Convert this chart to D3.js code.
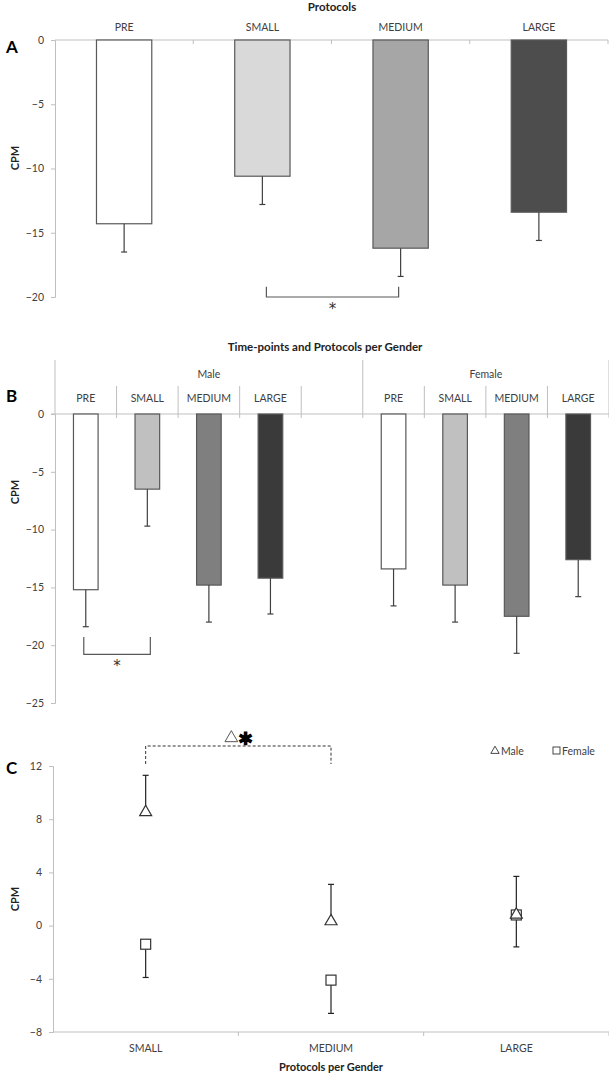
<!DOCTYPE html>
<html><head><meta charset="utf-8">
<script src="https://cdn.jsdelivr.net/npm/d3@7"></script>
<style>
body{margin:0;background:#fff;}
svg{display:block;font-family:Lato,"Liberation Sans",sans-serif;}
.axis path,.axis line{stroke:#bfbfbf;}
.axis text{fill:#404040;font-size:10.5px;font-family:Lato,"Liberation Sans",sans-serif;}
</style></head>
<body>
<svg id="chart" width="609" height="1077"></svg>
<script>
// ---- Panel A data ----
const catsA = ["PRE", "SMALL", "MEDIUM", "LARGE"];
const valuesA = [-14.3, -10.6, -16.2, -13.4];
const errA = [2.2, 2.2, 2.2, 2.2];
const colorsA = ["#ffffff", "#d9d9d9", "#a6a6a6", "#4d4d4d"];
const ticksA = [0, -5, -10, -15, -20];

// ---- Panel B data ----
const gendersB = ["Male", "Female"];
const catsB = ["PRE", "SMALL", "MEDIUM", "LARGE"];
const maleB = [-15.2, -6.5, -14.8, -14.2];
const maleErrB = [3.2, 3.2, 3.2, 3.1];
const femaleB = [-13.4, -14.8, -17.5, -12.6];
const femaleErrB = [3.2, 3.2, 3.2, 3.2];
const colorsB = ["#ffffff", "#c0c0c0", "#7f7f7f", "#3a3a3a"];
const ticksB = [0, -5, -10, -15, -20, -25];

// ---- Panel C data ----
const catsC = ["SMALL", "MEDIUM", "LARGE"];
const maleC = [8.6, 0.4, 0.9];
const maleErrC = [2.7, 2.7, 2.8];
const femaleC = [-1.4, -4.1, 0.8];
const femaleErrC = [2.5, 2.5, 2.4];
const ticksC = [-8, -4, 0, 4, 8, 12];

const svg = d3.select("#chart");
const axisCol = "#bfbfbf";
const labCol = "#404040";
const barStroke = "#595959";
const errCol = "#404040";
const FS = 10.5;

function panelLabel(t, x, y) {
  svg.append("text").attr("x", x).attr("y", y).attr("font-size", 17)
    .attr("font-weight", "bold").attr("fill", "#000").text(t);
}
function title(t, x, y) {
  svg.append("text").attr("x", x).attr("y", y).attr("text-anchor", "middle")
    .attr("font-size", 11.5).attr("font-weight", "bold").attr("fill", "#222").text(t);
}
function yLabel(x, y) {
  svg.append("text").attr("transform", `translate(${x},${y}) rotate(-90)`)
    .attr("text-anchor", "middle").attr("font-size", 11).attr("font-weight", "bold")
    .attr("fill", "#222").text("CPM");
}
function errBar(g, x, y1, y2, col) {
  g.append("line").attr("x1", x).attr("x2", x).attr("y1", y1).attr("y2", y2)
    .attr("stroke", col).attr("stroke-width", 1.2);
  g.append("line").attr("x1", x - 3).attr("x2", x + 3).attr("y1", y2).attr("y2", y2)
    .attr("stroke", col).attr("stroke-width", 1.2);
}
function star(g, x, y) {
  g.append("text").attr("x", x).attr("y", y).attr("text-anchor", "middle")
    .attr("font-family", "DejaVu Sans").attr("font-size", 15).attr("fill", "#333").text("*");
}

// ================= PANEL A =================
{
  const x = d3.scaleBand().domain(catsA).range([55, 608]).paddingInner(0.6).paddingOuter(0.3);
  const y = d3.scaleLinear().domain([-20, 0]).range([297, 40]);
  const g = svg.append("g");
  title("Protocols", 332, 11);
  panelLabel("A", 6, 53);
  yLabel(19, 158);

  const ya = g.append("g").attr("class", "axis").attr("transform", "translate(55,0)")
    .call(d3.axisLeft(y).tickValues(ticksA).tickSize(4).tickPadding(7).tickFormat(d3.format("d")));
  ya.select(".domain").attr("stroke", axisCol);

  g.append("line").attr("x1", 55).attr("x2", 608).attr("y1", y(0)).attr("y2", y(0)).attr("stroke", axisCol);
  const step = x.step();
  catsA.forEach((c, i) => {
    const bx = x(c) - x.step() * x.paddingInner() / 2 + step;
    g.append("line").attr("x1", bx).attr("x2", bx).attr("y1", y(0)).attr("y2", y(0) + 4).attr("stroke", axisCol);
    g.append("text").attr("x", x(c) + x.bandwidth() / 2).attr("y", 31).attr("text-anchor", "middle")
      .attr("font-size", FS).attr("fill", labCol).text(c);
  });

  g.selectAll("rect.barA").data(catsA).join("rect").attr("class", "barA")
    .attr("x", c => x(c)).attr("width", x.bandwidth())
    .attr("y", y(0)).attr("height", (c, i) => y(valuesA[i]) - y(0))
    .attr("fill", (c, i) => colorsA[i]).attr("stroke", barStroke).attr("stroke-width", 1.2);
  catsA.forEach((c, i) => {
    const cx = x(c) + x.bandwidth() / 2;
    errBar(g, cx, y(valuesA[i]), y(valuesA[i] - errA[i]), errCol);
  });

  const x1 = x("SMALL") + x.bandwidth() / 2 + 4, x2 = x("MEDIUM") + x.bandwidth() / 2 - 2;
  const yb = y(-20), yt = y(-19.2);
  g.append("path").attr("d", `M${x1},${yt}V${yb}H${x2}V${yt}`).attr("fill", "none")
    .attr("stroke", "#595959").attr("stroke-width", 1.2);
  star(g, (x1 + x2) / 2, yb + 17);
}

// ================= PANEL B =================
{
  const keys = [];
  gendersB.forEach((gd, gi) => {
    catsB.forEach(c => keys.push(gd + "-" + c));
    if (gi === 0) keys.push("Male-blank");
  });
  const x = d3.scaleBand().domain(keys).range([55, 609]).paddingInner(0.6).paddingOuter(0.3);
  const y = d3.scaleLinear().domain([-25, 0]).range([703, 414]);
  const g = svg.append("g");
  title("Time-points and Protocols per Gender", 325, 351);
  panelLabel("B", 6, 402);
  yLabel(19, 492);

  const ya = g.append("g").attr("class", "axis").attr("transform", "translate(55,0)")
    .call(d3.axisLeft(y).tickValues(ticksB).tickSize(4).tickPadding(7).tickFormat(d3.format("d")));
  ya.select(".domain").attr("stroke", axisCol);

  const step = x.step();
  const left = k => x(k) - step * x.paddingInner() / 2;
  g.append("line").attr("x1", 51).attr("x2", 609).attr("y1", y(0)).attr("y2", y(0)).attr("stroke", axisCol);
  g.append("line").attr("x1", 55).attr("x2", 55).attr("y1", 360).attr("y2", y(0)).attr("stroke", axisCol);
  keys.forEach((k, i) => {
    const bx = left(k) + step;
    const isSep = (k === "Male-blank") || i === keys.length - 1;
    g.append("line").attr("x1", bx).attr("x2", bx).attr("y1", isSep ? 360 : 386).attr("y2", y(0) + 4)
      .attr("stroke", axisCol);
    if (!k.endsWith("blank")) {
      g.append("text").attr("x", x(k) + x.bandwidth() / 2).attr("y", 402).attr("text-anchor", "middle")
        .attr("font-size", FS).attr("fill", labCol).text(k.split("-")[1]);
    }
  });
  const mx = (55 + left("Male-blank") + step) / 2;
  const fx = (left("Female-PRE") + 609) / 2;
  g.append("text").attr("x", mx).attr("y", 378).attr("text-anchor", "middle").attr("font-size", FS).attr("fill", labCol).text("Male");
  g.append("text").attr("x", fx).attr("y", 378).attr("text-anchor", "middle").attr("font-size", FS).attr("fill", labCol).text("Female");

  const draw = (gd, vals, errs) => {
    catsB.forEach((c, i) => {
      const k = gd + "-" + c;
      g.append("rect").attr("x", x(k)).attr("width", x.bandwidth()).attr("y", y(0))
        .attr("height", y(vals[i]) - y(0)).attr("fill", colorsB[i])
        .attr("stroke", barStroke).attr("stroke-width", 1.2);
      errBar(g, x(k) + x.bandwidth() / 2, y(vals[i]), y(vals[i] - errs[i]), errCol);
    });
  };
  draw("Male", maleB, maleErrB);
  draw("Female", femaleB, femaleErrB);

  const x1 = x("Male-PRE") + x.bandwidth() / 2 - 2, x2 = x("Male-SMALL") + x.bandwidth() / 2 + 3;
  const yb = y(-20.8), yt = y(-19.3);
  g.append("path").attr("d", `M${x1},${yt}V${yb}H${x2}V${yt}`).attr("fill", "none")
    .attr("stroke", "#595959").attr("stroke-width", 1.2);
  star(g, (x1 + x2) / 2, yb + 17);
}

// ================= PANEL C =================
{
  const x = d3.scaleBand().domain(catsC).range([53, 609]);
  const y = d3.scaleLinear().domain([-8, 12]).range([1032, 766]);
  const g = svg.append("g");
  panelLabel("C", 6, 774);
  yLabel(19, 899);

  const ya = g.append("g").attr("class", "axis").attr("transform", "translate(53,0)")
    .call(d3.axisLeft(y).tickValues(ticksC).tickSize(4).tickPadding(7).tickFormat(d3.format("d")));
  ya.select(".domain").attr("stroke", axisCol);

  g.append("line").attr("x1", 53).attr("x2", 609).attr("y1", y(-8)).attr("y2", y(-8)).attr("stroke", axisCol);
  catsC.forEach(c => {
    const bx = x(c) + x.bandwidth();
    g.append("line").attr("x1", bx).attr("x2", bx).attr("y1", y(-8)).attr("y2", y(-8) + 4).attr("stroke", axisCol);
    g.append("text").attr("x", x(c) + x.bandwidth() / 2).attr("y", 1052).attr("text-anchor", "middle")
      .attr("font-size", FS).attr("fill", labCol).text(c);
  });
  svg.append("text").attr("x", 331).attr("y", 1071).attr("text-anchor", "middle")
    .attr("font-size", 11).attr("font-weight", "bold").attr("fill", "#222").text("Protocols per Gender");

  const cx = c => x(c) + x.bandwidth() / 2;
  const tri = d3.symbol().type(d3.symbolTriangle).size(62);
  catsC.forEach((c, i) => {
    errBar(g, cx(c), y(femaleC[i]), y(femaleC[i] - femaleErrC[i]), "#222");
  });
  catsC.forEach((c, i) => {
    errBar(g, cx(c), y(maleC[i]), y(maleC[i] + maleErrC[i]), "#222");
  });
  catsC.forEach((c, i) => {
    g.append("rect").attr("x", cx(c) - 5).attr("y", y(femaleC[i]) - 5).attr("width", 10).attr("height", 10)
      .attr("fill", "#fff").attr("stroke", "#333").attr("stroke-width", 1.2);
  });
  catsC.forEach((c, i) => {
    g.append("path").attr("d", tri).attr("transform", `translate(${cx(c)},${y(maleC[i]) + 1})`)
      .attr("fill", "#fff").attr("stroke", "#333").attr("stroke-width", 1.2);
  });

  const x1 = cx("SMALL"), x2 = cx("MEDIUM");
  const yt = 746, yb = 764;
  g.append("path").attr("d", `M${x1},${yb}V${yt}H${x2}V${yb}`).attr("fill", "none")
    .attr("stroke", "#333").attr("stroke-width", 1).attr("stroke-dasharray", "3,2");
  g.append("path").attr("d", d3.symbol().type(d3.symbolTriangle).size(70))
    .attr("transform", `translate(${(x1 + x2) / 2 - 7},${738})`)
    .attr("fill", "none").attr("stroke", "#444").attr("stroke-width", 0.9);
  g.append("text").attr("x", (x1 + x2) / 2 + 7).attr("y", 745).attr("text-anchor", "middle")
    .attr("font-size", 18).attr("font-weight", "bold").attr("fill", "#000").text("\u2731");

  const lg = svg.append("g");
  lg.append("path").attr("d", d3.symbol().type(d3.symbolTriangle).size(30))
    .attr("transform", "translate(495,751)").attr("fill", "none").attr("stroke", "#333").attr("stroke-width", 0.9);
  lg.append("text").attr("x", 501).attr("y", 755).attr("font-size", FS).attr("fill", labCol).text("Male");
  lg.append("rect").attr("x", 553).attr("y", 747).attr("width", 7).attr("height", 7)
    .attr("fill", "none").attr("stroke", "#333").attr("stroke-width", 0.9);
  lg.append("text").attr("x", 562).attr("y", 755).attr("font-size", FS).attr("fill", labCol).text("Female");
}
</script>
</body></html>
